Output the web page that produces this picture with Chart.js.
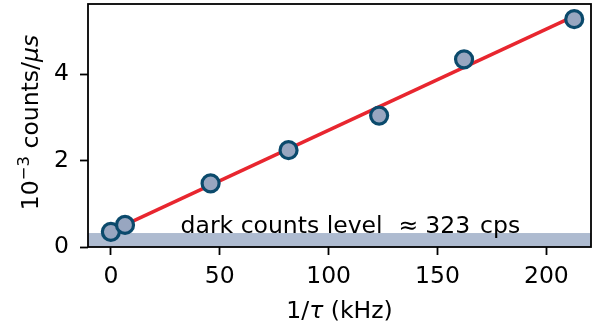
<!DOCTYPE html>
<html><head><meta charset="utf-8">
<script src="https://cdn.jsdelivr.net/npm/chart.js@4.4.1/dist/chart.umd.min.js"></script>
<style>html,body{margin:0;padding:0;background:#fff}canvas{display:block}</style>
</head><body>
<canvas id="c" width="609" height="329"></canvas>
<script>
const invTau = [0, 6.5, 45.8, 81.6, 123.2, 162.2, 212.8];
const counts = [0.35, 0.51, 1.47, 2.24, 3.04, 4.34, 5.27];
const fitX = [0, 212.8];
const fitY = [0.36, 5.34];
const darkLevel = 0.323;
const xTicks = [0, 50, 100, 150, 200];
const yTicks = [0, 2, 4];
const xRange = [-10.5, 220.5];
const yRange = [0, 5.62];

const FONT = '"DejaVu Sans"';
const FS = 23.5;

const overlay = {
  id: 'overlay',
  beforeDatasetsDraw(chart) {
    const {ctx, chartArea: a, scales: {x, y}} = chart;
    ctx.save();
    const yt = y.getPixelForValue(darkLevel), y0 = y.getPixelForValue(0);
    ctx.fillStyle = '#aebbd0';
    ctx.fillRect(a.left, yt, a.right - a.left, y0 - yt);
    ctx.fillStyle = '#000';
    ctx.textBaseline = 'alphabetic';
    ctx.font = FS + 'px ' + FONT;
    const parts = [['dark counts level', 16], ['\u2248', 7], ['323', 10], ['cps', 0]];
    let total = 0;
    parts.forEach(p => total += ctx.measureText(p[0]).width + p[1]);
    let px = x.getPixelForValue(110) - total / 2;
    parts.forEach(p => { ctx.fillText(p[0], px, yt); px += ctx.measureText(p[0]).width + p[1]; });
    ctx.restore();
  },
  afterDraw(chart) {
    const {ctx, chartArea: a} = chart;
    ctx.save();
    ctx.strokeStyle = '#000';
    ctx.lineWidth = 1.8;
    ctx.strokeRect(a.left, a.top, a.right - a.left, a.bottom - a.top);
    ctx.fillStyle = '#000';
    ctx.textBaseline = 'alphabetic';
    const xp = [['1/', 'normal', FS, 0], ['\u03c4', 'italic', FS, 0], [' (kHz)', 'normal', FS, 0]];
    drawPieces(ctx, xp, (a.left + a.right) / 2, 318);
    ctx.translate(38, 122.5);
    ctx.rotate(-Math.PI / 2);
    const yp = [['10', 'normal', FS, 0], ['\u22123', 'normal', FS * 0.7, 9.5], [' counts/', 'normal', FS, 0], ['\u03bcs', 'italic', FS, 0]];
    drawPieces(ctx, yp, 0, 0);
    ctx.restore();
  }
};
function drawPieces(ctx, pieces, cx, by) {
  let total = 0;
  pieces.forEach(p => { ctx.font = p[1] + ' ' + p[2] + 'px ' + FONT; total += ctx.measureText(p[0]).width; });
  let px = cx - total / 2;
  pieces.forEach(p => { ctx.font = p[1] + ' ' + p[2] + 'px ' + FONT; ctx.fillText(p[0], px, by - p[3]); px += ctx.measureText(p[0]).width; });
}

const chart = new Chart(document.getElementById('c'), {
  type: 'scatter',
  data: {
    datasets: [
      {
        data: invTau.map((v, i) => ({x: v, y: counts[i]})),
        pointRadius: 8.5, pointBorderWidth: 3.2,
        pointBackgroundColor: '#98a6c0', pointBorderColor: '#0b4a6c',
        pointHoverRadius: 8.5
      },
      {
        data: fitX.map((v, i) => ({x: v, y: fitY[i]})),
        showLine: true, borderColor: '#e8262f', borderWidth: 3.5, pointRadius: 0
      }
    ]
  },
  options: {
    responsive: false, animation: false, devicePixelRatio: 1,
    layout: {autoPadding: false, padding: {left: 0, right: 18, top: 4, bottom: 0}},
    plugins: {legend: {display: false}, tooltip: {enabled: false}},
    scales: {
      x: {
        type: 'linear', min: xRange[0], max: xRange[1],
        afterBuildTicks: s => { s.ticks = xTicks.map(v => ({value: v})); },
        afterFit: s => { s.height = 82; s.paddingLeft = 0; s.paddingRight = 0; },
        grid: {display: true, drawOnChartArea: false, drawTicks: true, tickLength: 8, tickWidth: 1.8, tickColor: '#000'},
        border: {display: false},
        ticks: {font: {family: 'DejaVu Sans', size: FS}, color: '#000', padding: 8, maxRotation: 0}
      },
      y: {
        type: 'linear', min: yRange[0], max: yRange[1],
        afterBuildTicks: s => { s.ticks = yTicks.map(v => ({value: v})); },
        afterFit: s => { s.width = 88; s.paddingTop = 0; s.paddingBottom = 0; },
        grid: {display: true, drawOnChartArea: false, drawTicks: true, tickLength: 8, tickWidth: 1.8, tickColor: '#000'},
        border: {display: false},
        ticks: {font: {family: 'DejaVu Sans', size: FS}, color: '#000', padding: 11}
      }
    }
  },
  plugins: [overlay]
});
</script>
</body></html>
